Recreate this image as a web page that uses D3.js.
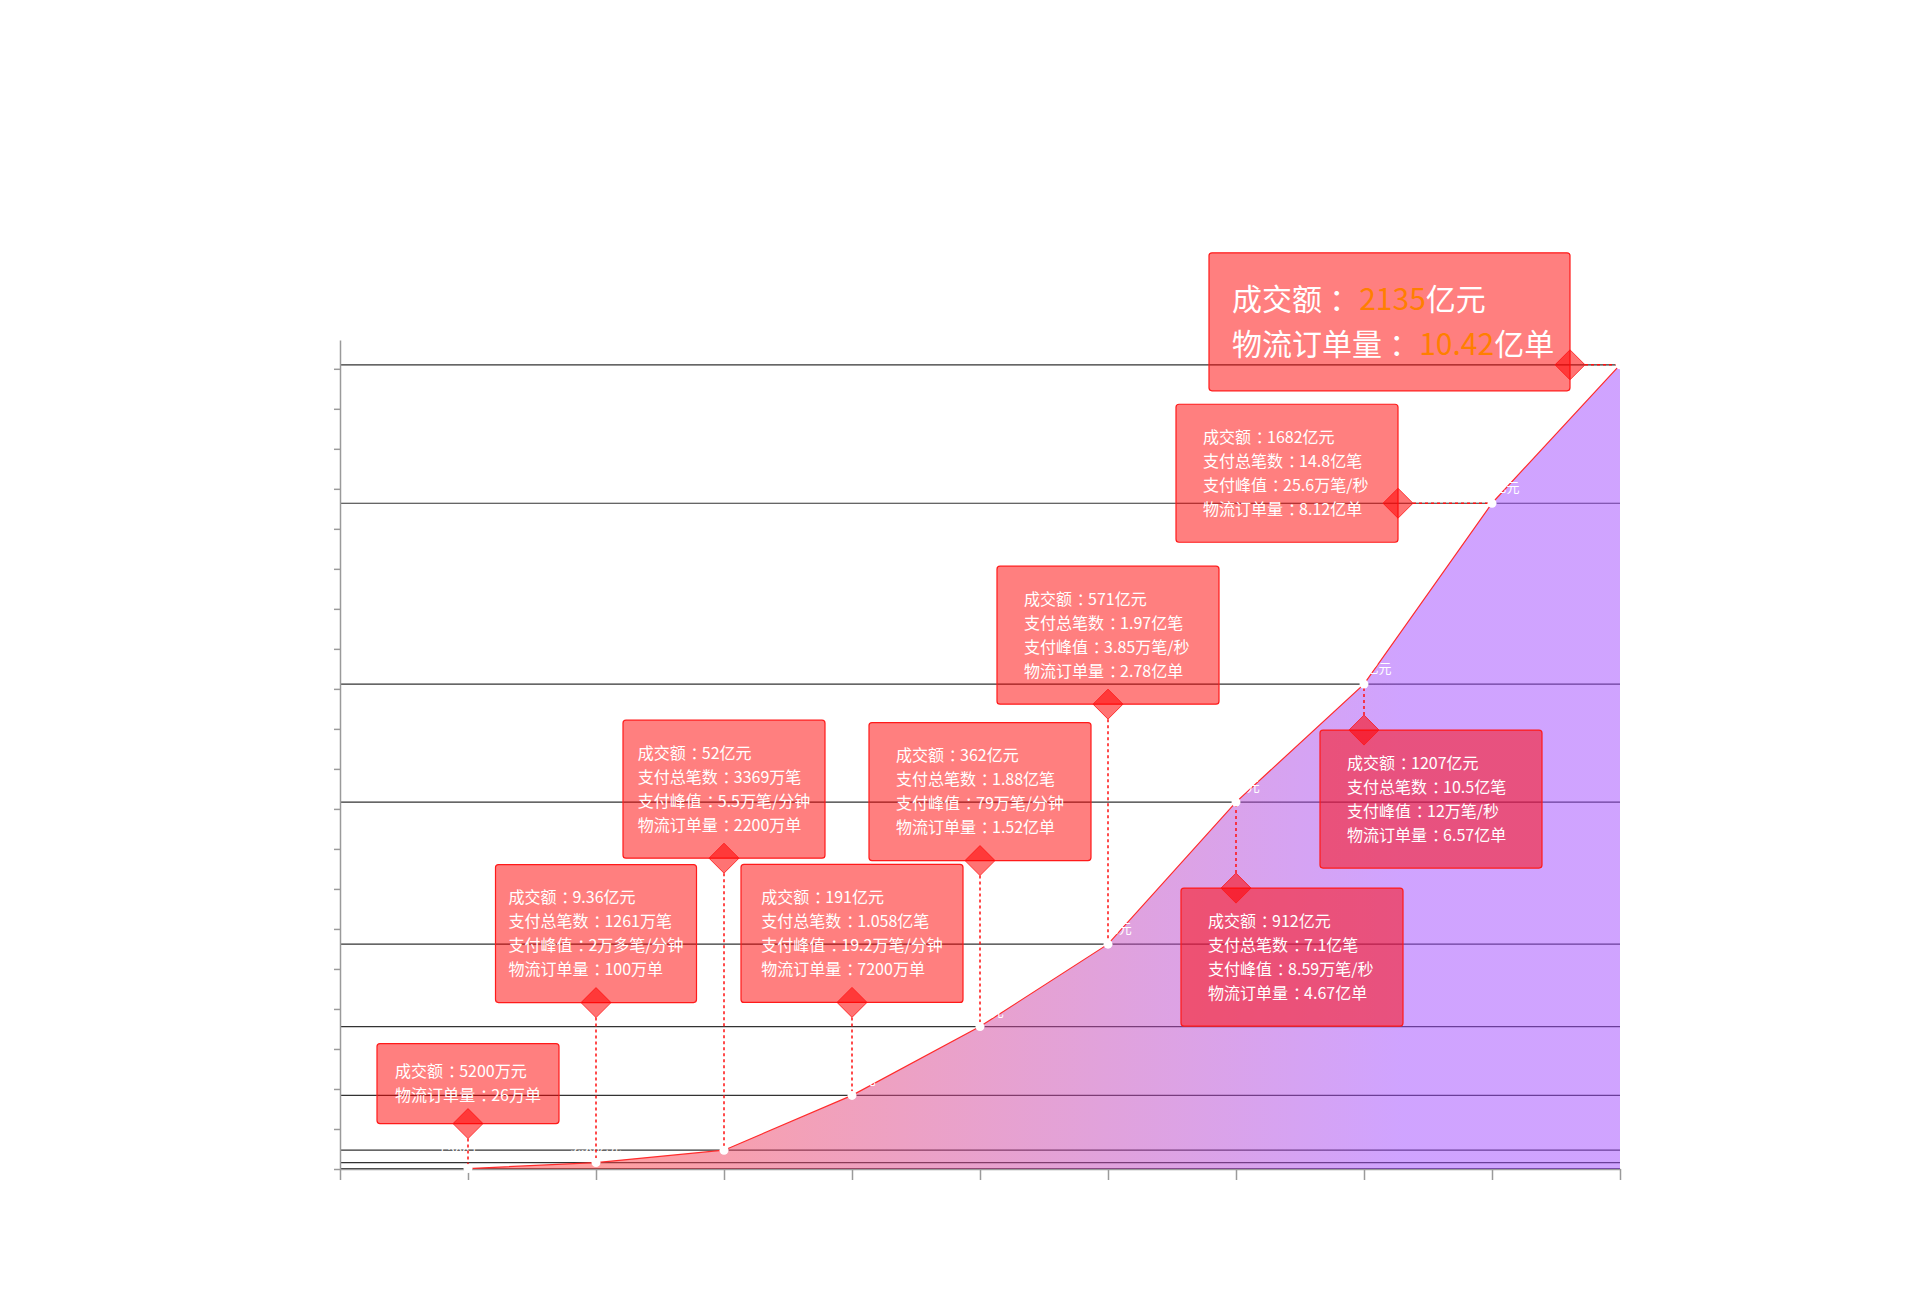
<!DOCTYPE html>
<html lang="zh-CN">
<head>
<meta charset="utf-8">
<title>天猫双11 历年成交额</title>
<script src="https://d3js.org/d3.v7.min.js"></script>
<style>
  html, body { margin: 0; padding: 0; background: #fff; }
  svg { display: block; font-family: "Noto Sans CJK SC", "Noto Sans", sans-serif; }
</style>
</head>
<body>
<svg id="chart" width="1920" height="1300"></svg>
<script>
// 双11 历年数据（2009 - 2018）
const years = [2009, 2010, 2011, 2012, 2013, 2014, 2015, 2016, 2017, 2018];
const gmv = ['5200万元', '9.36亿元', '52亿元', '191亿元', '362亿元', '571亿元', '912亿元', '1207亿元', '1682亿元', '2135亿元'];
const payCount = [null, '1261万笔', '3369万笔', '1.058亿笔', '1.88亿笔', '1.97亿笔', '7.1亿笔', '10.5亿笔', '14.8亿笔', null];
const payPeak = [null, '2万多笔/分钟', '5.5万笔/分钟', '19.2万笔/分钟', '79万笔/分钟', '3.85万笔/秒', '8.59万笔/秒', '12万笔/秒', '25.6万笔/秒', null];
const logistics = ['26万单', '100万单', '2200万单', '7200万单', '1.52亿单', '2.78亿单', '4.67亿单', '6.57亿单', '8.12亿单', '10.42亿单'];
// height of the curve for each year (one y tick = 100)
const levels = [1, 16, 47, 184, 356, 562, 917, 1212, 1664, 2010];
const yTicks = d3.range(0, 2001, 100);

// where each callout box sits relative to its point (layout only)
// gap: distance point -> diamond, offset: box left edge -> diamond (bottom boxes)
const callouts = [
    { side: 'top', gap: 45, width: 182 },
    { side: 'top', gap: 160, width: 201 },
    { side: 'top', gap: 292, width: 202 },
    { side: 'top', gap: 93, width: 222 },
    { side: 'top', gap: 166, width: 222 },
    { side: 'top', gap: 240, width: 222 },
    { side: 'bottom', gap: 86, width: 222, offset: 55 },
    { side: 'bottom', gap: 46, width: 222, offset: 44 },
    { side: 'left', gap: 94, width: 222, rise: 99 },
    { side: 'left', gap: 50, width: 361, rise: 112, hero: true }
];

const plot = { left: 340, right: 1620, top: 340, bottom: 1169 };
const DIAMOND = 15;

const svg = d3.select('#chart');

const x = d3.scaleLinear()
    .domain([years[0] - 1, years[years.length - 1]])
    .range([plot.left, plot.right]);
const y = d3.scaleLinear()
    .domain([0, 2072])
    .range([plot.bottom, plot.top]);

const data = years.map((year, i) => ({
    year,
    level: levels[i],
    gmv: gmv[i],
    lines: [
        ['成交额', gmv[i]],
        payCount[i] && ['支付总笔数', payCount[i]],
        payPeak[i] && ['支付峰值', payPeak[i]],
        ['物流订单量', logistics[i]]
    ].filter(Boolean),
    layout: callouts[i]
}));

// gradient for the area, red on the left to violet on the right
const defs = svg.append('defs');
const grad = defs.append('linearGradient')
    .attr('id', 'areaFill')
    .attr('gradientUnits', 'userSpaceOnUse')
    .attr('x1', plot.left + (plot.right - plot.left) * 0.2).attr('y1', 0)
    .attr('x2', plot.left + (plot.right - plot.left) * 0.83).attr('y2', 0);
grad.append('stop').attr('offset', 0).attr('stop-color', 'rgb(255,64,64)').attr('stop-opacity', 0.5);
grad.append('stop').attr('offset', 1).attr('stop-color', 'rgb(160,72,255)').attr('stop-opacity', 0.5);

// horizontal reference line at every year's level
svg.append('g').attr('class', 'level-lines')
    .selectAll('line')
    .data(data)
    .join('line')
    .attr('x1', plot.left)
    .attr('x2', plot.right)
    .attr('y1', d => y(d.level))
    .attr('y2', d => y(d.level))
    .attr('stroke', '#333')
    .attr('stroke-width', 1.2);

// axes, no labels
const yAxis = svg.append('g')
    .attr('transform', `translate(${plot.left},0)`)
    .call(d3.axisLeft(y).tickValues(yTicks).tickSize(6).tickSizeOuter(0).tickFormat(''));
const xAxis = svg.append('g')
    .attr('transform', `translate(0,${plot.bottom})`)
    .call(d3.axisBottom(x).tickValues(d3.range(years[0] - 1, years[years.length - 1] + 1)).tickSize(11).tickSizeOuter(0).tickFormat(''));
[yAxis, xAxis].forEach(axis => {
    axis.select('.domain').attr('stroke', '#9a9a9a').attr('stroke-width', 1.5);
    axis.selectAll('.tick line').attr('stroke', '#9a9a9a').attr('stroke-width', 1.5);
});

// area + red edge
const area = d3.area()
    .x(d => x(d.year))
    .y0(y(0))
    .y1(d => y(d.level));
const edge = d3.line()
    .x(d => x(d.year))
    .y(d => y(d.level));

svg.append('path')
    .datum(data)
    .attr('d', area)
    .attr('fill', 'url(#areaFill)');
svg.append('path')
    .datum(data)
    .attr('d', edge)
    .attr('fill', 'none')
    .attr('stroke', '#ff2b2b')
    .attr('stroke-width', 1.2);

// point labels (white, mostly lost on the white background)
svg.append('g').attr('class', 'point-labels')
    .selectAll('text')
    .data(data)
    .join('text')
    .attr('x', d => x(d.year))
    .attr('y', d => y(d.level) - 11)
    .attr('text-anchor', 'middle')
    .attr('font-size', 13)
    .attr('fill', '#fff')
    .text(d => d.gmv);

// geometry of callouts
data.forEach(d => {
    const px = x(d.year);
    const py = y(d.level);
    const L = d.layout;
    const h = L.hero ? 138 : 29 * d.lines.length + 22;
    let dx = px, dy = py, bx, by;
    if (L.side === 'top') {
        dy = py - L.gap;
        bx = px - L.width / 2;
        by = dy - h;
    } else if (L.side === 'bottom') {
        dy = py + L.gap;
        bx = px - (L.offset != null ? L.offset : L.width / 2);
        by = dy;
    } else {
        dx = px - L.gap;
        bx = dx - L.width;
        by = py - L.rise;
    }
    d.geo = { px, py, dx, dy, bx, by, w: L.width, h };
});

// dotted connectors from diamond to point
svg.append('g').attr('class', 'connectors')
    .selectAll('line')
    .data(data)
    .join('line')
    .attr('x1', d => d.layout.side === 'left' ? d.geo.dx + DIAMOND : d.geo.dx)
    .attr('y1', d => d.layout.side === 'top' ? d.geo.dy + DIAMOND
        : d.layout.side === 'bottom' ? d.geo.dy - DIAMOND : d.geo.dy)
    .attr('x2', d => d.geo.px)
    .attr('y2', d => d.geo.py + (d.layout.side === 'top' && d.level < 5 ? 5 : 0))
    .attr('stroke', '#ff1010')
    .attr('stroke-width', 1.5)
    .attr('stroke-dasharray', '3 3');

// boxes
const boxes = svg.append('g').attr('class', 'callouts')
    .selectAll('g')
    .data(data)
    .join('g');

boxes.append('rect')
    .attr('x', d => d.geo.bx)
    .attr('y', d => d.geo.by)
    .attr('width', d => d.geo.w)
    .attr('height', d => d.geo.h)
    .attr('rx', 3)
    .attr('fill', 'rgba(255,0,0,0.5)')
    .attr('stroke', '#ff1a1a')
    .attr('stroke-width', 1.2);

boxes.each(function (d) {
    const g = d3.select(this);
    const hero = d.layout.hero;
    const size = hero ? 30 : 16;
    const lh = hero ? 45 : 24;
    const cy = d.geo.by + d.geo.h / 2;
    const rows = hero ? [d.lines[0], d.lines[d.lines.length - 1]] : d.lines;
    // the SC full-width colon sits at the left of its cell; nudge it to the middle
    const nudge = size * 0.3;

    const texts = g.selectAll('text.row')
        .data(rows)
        .join('text')
        .attr('class', 'row')
        .attr('y', (r, i) => cy + (i - (rows.length - 1) / 2) * lh)
        .attr('dy', '0.35em')
        .attr('font-size', size)
        .attr('fill', '#fff');

    if (hero) {
        texts.each(function (r) {
            const m = r[1].match(/^([\d.]+)(.*)$/);
            const t = d3.select(this);
            t.append('tspan')
                .attr('dx', [...Array(r[0].length).fill(0), nudge * 0.8].join(' '))
                .text(r[0] + '：');
            t.append('tspan').attr('fill', '#ff7f00').text(m[1]);
            t.append('tspan').text(m[2]);
        });
    } else {
        texts
            .attr('dx', r => [...Array(r[0].length).fill(0), nudge, -nudge].join(' '))
            .text(r => r[0] + '：' + r[1]);
    }

    let widest = 0;
    texts.each(function () { widest = Math.max(widest, this.getComputedTextLength()); });
    const pad = Math.min(hero ? 24 : 27, (d.geo.w - widest) / 2);
    texts.attr('x', d.geo.bx + pad);
});

// diamonds
svg.append('g').attr('class', 'diamonds')
    .selectAll('path')
    .data(data)
    .join('path')
    .attr('d', d => `M${d.geo.dx},${d.geo.dy - DIAMOND}L${d.geo.dx + DIAMOND},${d.geo.dy}`
        + `L${d.geo.dx},${d.geo.dy + DIAMOND}L${d.geo.dx - DIAMOND},${d.geo.dy}Z`)
    .attr('fill', 'rgba(255,0,0,0.55)')
    .attr('stroke', 'rgba(255,20,20,0.8)')
    .attr('stroke-width', 1);

// point markers
svg.append('g').attr('class', 'points')
    .selectAll('circle')
    .data(data)
    .join('circle')
    .attr('cx', d => x(d.year))
    .attr('cy', d => y(d.level))
    .attr('r', 4.5)
    .attr('fill', '#fff');
</script>
</body>
</html>
